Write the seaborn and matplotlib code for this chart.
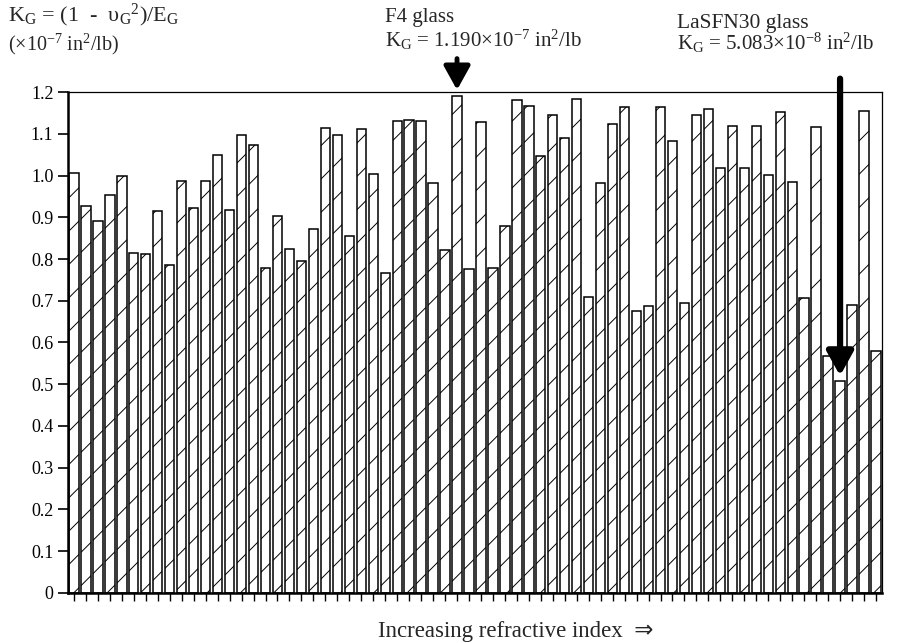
import numpy as np
import seaborn as sns
import matplotlib
matplotlib.use("Agg")
import matplotlib.pyplot as plt

# K_G values per glass, ordered by increasing refractive index (x1e-7 in^2/lb)
kg_values = [
    1.007, 0.927, 0.891, 0.954, 0.998, 0.814, 0.811, 0.915, 0.786, 0.987,
    0.922, 0.987, 1.050, 0.918, 1.098, 1.072, 0.779, 0.902, 0.824, 0.795,
    0.872, 1.114, 1.096, 0.854, 1.112, 1.003, 0.767, 1.131, 1.134, 1.130,
    0.981, 0.822, 1.190, 0.776, 1.128, 0.778, 0.880, 1.182, 1.167, 1.046,
    1.146, 1.090, 1.184, 0.710, 0.982, 1.124, 1.164, 0.676, 0.688, 1.164,
    1.083, 0.694, 1.144, 1.160, 1.018, 1.119, 1.018, 1.119, 1.002, 1.152,
    0.984, 0.707, 1.116, 0.568, 0.5083, 0.690, 1.154, 0.579,
]
glass_index = list(range(len(kg_values)))
y_ticks = [0, 0.1, 0.2, 0.3, 0.4, 0.5, 0.6, 0.7, 0.8, 0.9, 1.0, 1.1, 1.2]
y_tick_labels = ["0", "0.1", "0.2", "0.3", "0.4", "0.5", "0.6",
                 "0.7", "0.8", "0.9", "1.0", "1.1", "1.2"]
f4_pos = 32
lasfn30_pos = 64

sns.set_style("ticks")
plt.rcParams["font.family"] = ["Liberation Serif", "DejaVu Sans"]
plt.rcParams["mathtext.fontset"] = "custom"
plt.rcParams["mathtext.rm"] = "Liberation Serif"
plt.rcParams["mathtext.it"] = "Liberation Serif:italic"
plt.rcParams["hatch.linewidth"] = 0.7

fig = plt.figure(figsize=(9.03, 6.43), dpi=100)
ax = fig.add_axes([0.0753, 0.0778, 0.9014, 0.7791])

sns.barplot(x=glass_index, y=kg_values, color="white", edgecolor="black",
            linewidth=1.1, hatch="/", width=0.78, saturation=1, ax=ax)

ax.set_xlim(-0.5, len(kg_values) - 0.5)
ax.set_ylim(0, 1.2)
ax.set_yticks(y_ticks)
ax.set_yticklabels(y_tick_labels, fontsize=13)
ax.set_xticks(glass_index)
ax.set_xticklabels([])
ax.tick_params(axis="y", direction="out", length=7, width=1.2, colors="black")
ax.tick_params(axis="x", direction="out", length=6, width=1.0, colors="black")
for side in ["left", "bottom"]:
    ax.spines[side].set_linewidth(1.8)
for side in ["top", "right"]:
    ax.spines[side].set_linewidth(0.9)
    ax.spines[side].set_visible(True)
for s in ax.spines.values():
    s.set_color("black")

ax.set_xlabel("Increasing refractive index  \u21d2", fontsize=16.5)
ax.xaxis.set_label_coords(0.55, -0.055)
ax.set_ylabel("")

fig.text(0.009, 0.967,
         "K$_\\mathrm{G}$ = (1  -  \u03c5$_\\mathrm{G}$$^\\mathrm{2}$)/E$_\\mathrm{G}$",
         fontsize=16, va="baseline")
fig.text(0.009, 0.922, "($\\times$10$^\\mathrm{-7}$ in$^\\mathrm{2}$/lb)",
         fontsize=14.5, va="baseline")

fig.text(0.426, 0.966, "F4 glass", fontsize=15, va="baseline")
fig.text(0.426, 0.927,
         "K$_\\mathrm{G}$ = 1.190$\\times$10$^\\mathrm{-7}$ in$^\\mathrm{2}$/lb",
         fontsize=15, va="baseline")
fig.text(0.750, 0.957, "LaSFN30 glass", fontsize=15.5, va="baseline")
fig.text(0.750, 0.922,
         "K$_\\mathrm{G}$ = 5.083$\\times$10$^\\mathrm{-8}$ in$^\\mathrm{2}$/lb",
         fontsize=15, va="baseline")

ax.annotate("", xy=(f4_pos, kg_values[f4_pos] + 0.015),
            xytext=(f4_pos, kg_values[f4_pos] + 0.09),
            annotation_clip=False,
            arrowprops=dict(arrowstyle="-|>,head_width=0.5,head_length=0.9",
                            lw=3.5, color="black", mutation_scale=16,
                            shrinkA=0, shrinkB=0))
ax.annotate("", xy=(lasfn30_pos, kg_values[lasfn30_pos] + 0.012),
            xytext=(lasfn30_pos, 1.232),
            annotation_clip=False,
            arrowprops=dict(arrowstyle="-|>,head_width=0.5,head_length=0.9",
                            lw=4.5, color="black", mutation_scale=16,
                            shrinkA=0, shrinkB=0))

fig.savefig("out.png", dpi=100)
